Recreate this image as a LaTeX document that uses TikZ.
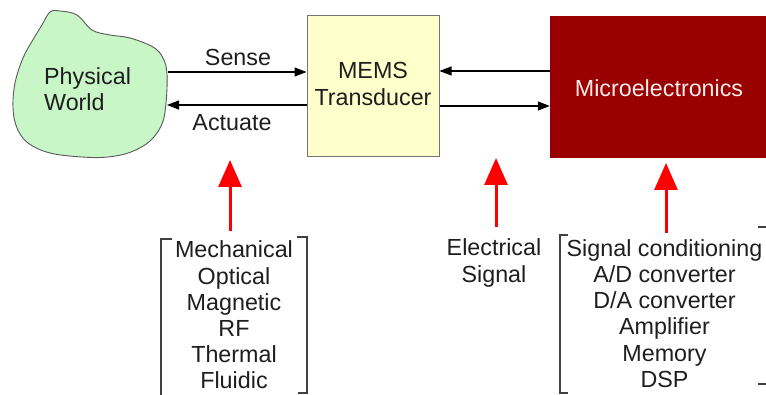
\documentclass[tikz,border=0pt]{standalone}
\usepackage{fontspec}
\setmainfont{Liberation Sans}
\usetikzlibrary{arrows.meta}
\definecolor{blobfill}{RGB}{200,246,198}
\definecolor{memsfill}{RGB}{255,255,204}
\definecolor{microfill}{RGB}{153,0,0}
\definecolor{txt}{RGB}{30,30,30}
\tikzset{
  lbl/.style={font=\fontsize{23.3}{26.2}\selectfont, text=txt, inner sep=0pt, align=center},
  blk/.style={draw=black, line width=1.1pt, -{Triangle[width=9pt,length=12pt]}},
  redarr/.style={draw=red, line width=3pt, -{Triangle[width=23pt,length=27pt]}},
  brk/.style={draw=black!75, line width=1.3pt},
}
\begin{document}
\begin{tikzpicture}[x=1pt,y=-1pt]
\useasboundingbox (0,0) rectangle (766,395);
\fill[white] (0,0) rectangle (766,395);
% blob
\draw[draw=black!65, line width=0.9pt, fill=blobfill] plot[smooth cycle, tension=0.6] coordinates {
 (42,25) (50,12) (60,11) (77,15) (92,30) (110,35) (130,38) (153,47) (163,58) (167,74)
 (166,103) (162,124) (150,141) (131,152) (108,157) (82,157) (50,153) (28,143) (17,128)
 (13,108) (15,83) (23,58) (34,38)};
\node[lbl, anchor=west, align=left] (pw) at (44,89) {Physical\\World};
\coordinate (pwA) at (168,72);
\coordinate (pwB) at (167,105);
% boxes
\node[draw=black!55, line width=1pt, fill=memsfill, minimum width=132pt, minimum height=141pt, inner sep=0pt] (mems) at (373,86.5) {};
\node[lbl] (memst) at (373,84) {MEMS\\Transducer};
\node[fill=microfill, minimum width=216pt, minimum height=142pt, inner sep=0pt] (micro) at (658,87) {};
\node[lbl, text=white!92!red] (microt) at (659,88) {Microelectronics};
% black arrows
\draw[blk] (pwA) -- (pwA -| mems.west);
\draw[blk] (pwB -| mems.west) -- (pwB);
\draw[blk] (micro.west |- 0,71) -- (mems.east |- 0,71);
\draw[blk] (mems.east |- 0,106) -- (micro.west |- 0,106);
\node[lbl] (sense) at (238,57) {Sense};
\node[lbl] (actuate) at (232,123) {Actuate};
% lists
\node[lbl] (l1) at (234,315) {Mechanical\\Optical\\Magnetic\\RF\\Thermal\\Fluidic};
\node[lbl] (l2) at (494,263) {Electrical\\Signal};
\node[lbl] (l3) at (664.5,313.5) {Signal conditioning\\A/D converter\\D/A converter\\Amplifier\\Memory\\DSP};
% red arrows
\coordinate (r1a) at (230,231); \coordinate (r1b) at (230,160);
\coordinate (r2a) at (496,227); \coordinate (r2b) at (496,158);
\coordinate (r3a) at (666,233); \coordinate (r3b) at (666,163);
\draw[redarr] (r1a) -- (r1b);
\draw[redarr] (r2a) -- (r2b);
\draw[redarr] (r3a) -- (r3b);
% brackets
\draw[brk] (172,239) -- (161,239) -- (161,396);
\draw[brk] (297,237) -- (307,237) -- (307,393) -- (298,393);
\draw[brk] (568,235) -- (560,235) -- (560,393) -- (568,393);
\draw[brk] (758,227) -- (766,227);
\draw[brk] (758,384) -- (766,384);
\end{tikzpicture}
\end{document}
